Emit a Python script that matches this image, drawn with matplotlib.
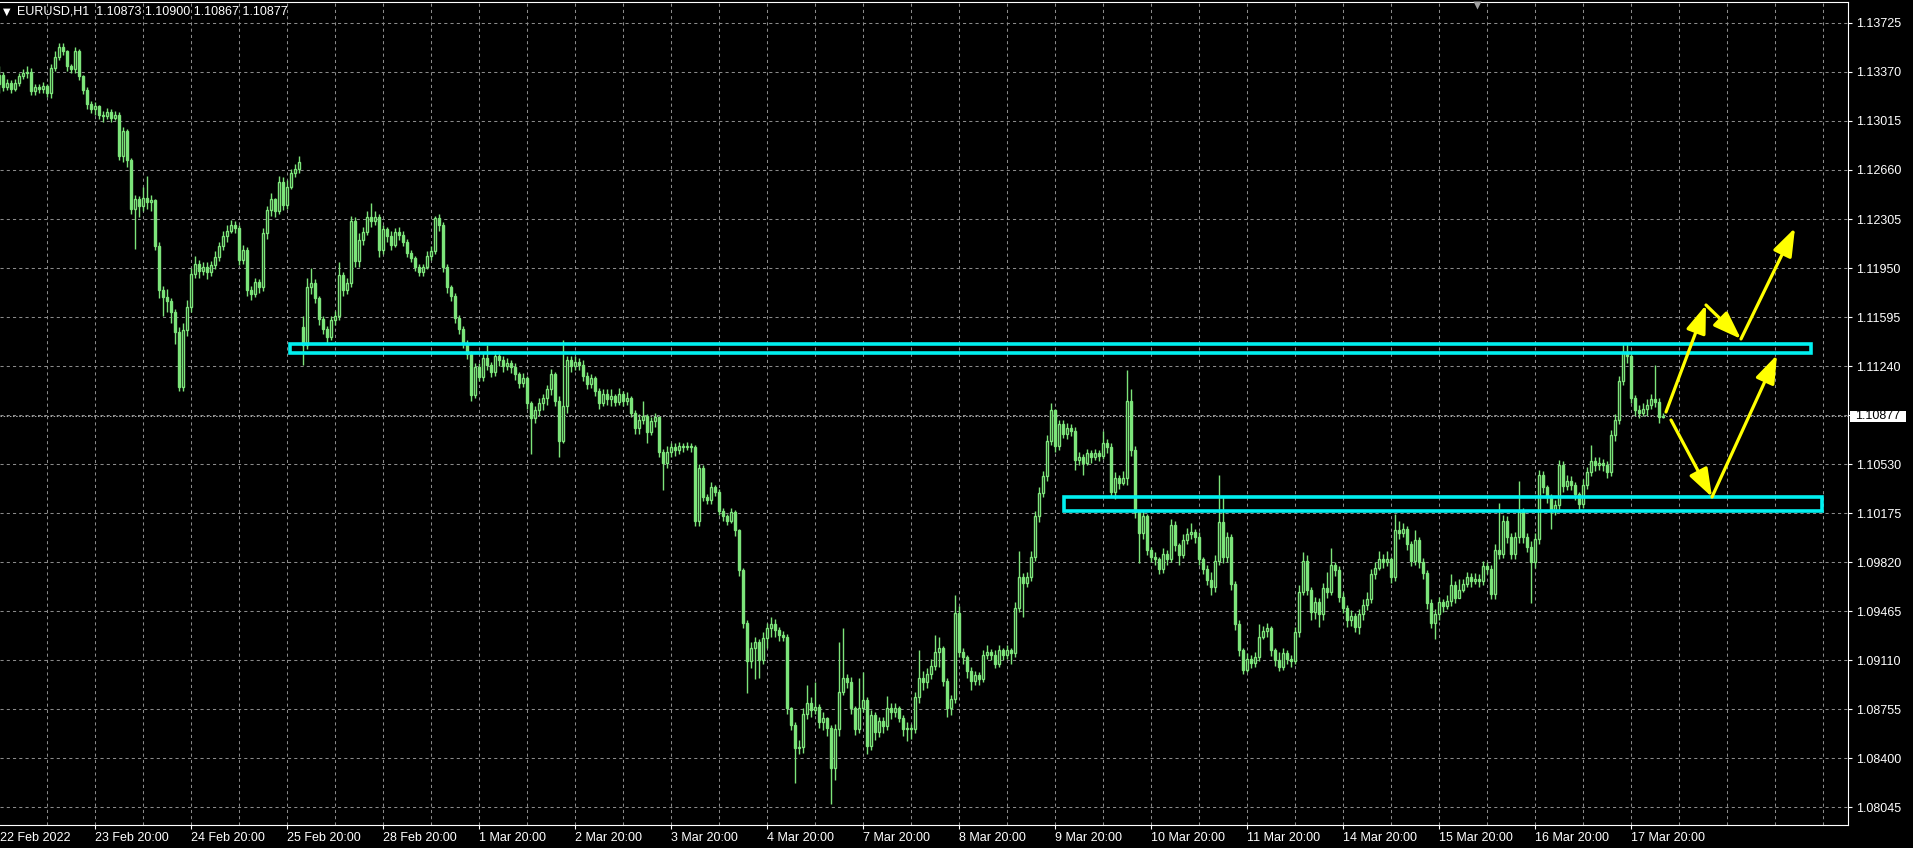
import matplotlib
matplotlib.use("Agg")
import matplotlib.pyplot as plt
import matplotlib.transforms as mtransforms
from matplotlib.patches import Rectangle
import numpy as np

# EURUSD H1 bars, 22 Feb 2022 20:00 -> 18 Mar 2022 04:00 (12 bars per row)
closes = [
    1.1335, 1.1326, 1.1329, 1.1325, 1.1329, 1.1334, 1.1336, 1.1337, 1.1323, 1.1326, 1.1325, 1.1327,
    1.1322, 1.1340, 1.1348, 1.1355, 1.1352, 1.1341, 1.1339, 1.1352, 1.1334, 1.1324, 1.1314, 1.1310,
    1.1312, 1.1306, 1.1305, 1.1308, 1.1304, 1.1306, 1.1276, 1.1294, 1.1273, 1.1238, 1.1245, 1.1240,
    1.1246, 1.1243, 1.1244, 1.1211, 1.1179, 1.1174, 1.1171, 1.1163, 1.1149, 1.1109, 1.1150, 1.1167,
    1.1191, 1.1198, 1.1193, 1.1196, 1.1192, 1.1197, 1.1203, 1.1211, 1.1218, 1.1222, 1.1226, 1.1224,
    1.1201, 1.1208, 1.1179, 1.1176, 1.1185, 1.1181, 1.1220, 1.1237, 1.1245, 1.1236, 1.1257, 1.1241,
    1.1254, 1.1264, 1.1267, 1.1272, 1.1139, 1.1181, 1.1184, 1.1173, 1.1158, 1.1151, 1.1145, 1.1157,
    1.1160, 1.1190, 1.1179, 1.1184, 1.1229, 1.1200, 1.1215, 1.1221, 1.1232, 1.1229, 1.1232, 1.1208,
    1.1223, 1.1218, 1.1212, 1.1221, 1.1219, 1.1214, 1.1206, 1.1202, 1.1196, 1.1192, 1.1196, 1.1204,
    1.1207, 1.1231, 1.1226, 1.1196, 1.1181, 1.1175, 1.1159, 1.1151, 1.1141, 1.1133, 1.1103, 1.1123,
    1.1116, 1.1130, 1.1125, 1.1120, 1.1131, 1.1128, 1.1124, 1.1126, 1.1123, 1.1118, 1.1112, 1.1115,
    1.1097, 1.1086, 1.1092, 1.1097, 1.1101, 1.1107, 1.1118, 1.1099, 1.1070, 1.1095, 1.1128, 1.1124,
    1.1127, 1.1125, 1.1117, 1.1111, 1.1115, 1.1106, 1.1097, 1.1104, 1.1100, 1.1102, 1.1098, 1.1104,
    1.1099, 1.1101, 1.1090, 1.1079, 1.1085, 1.1088, 1.1076, 1.1084, 1.1087, 1.1062, 1.1054, 1.1062,
    1.1065, 1.1063, 1.1066, 1.1065, 1.1066, 1.1065, 1.1012, 1.1050, 1.1029, 1.1027, 1.1036, 1.1033,
    1.1019, 1.1015, 1.1012, 1.1018, 1.1005, 1.0976, 1.0938, 1.0910, 1.0920, 1.0924, 1.0911, 1.0927,
    1.0934, 1.0937, 1.0933, 1.0929, 1.0928, 1.0876, 1.0864, 1.0847, 1.0848, 1.0872, 1.0880, 1.0875,
    1.0877, 1.0866, 1.0869, 1.0862, 1.0833, 1.0861, 1.0888, 1.0898, 1.0895, 1.0876, 1.0861, 1.0876,
    1.0882, 1.0849, 1.0871, 1.0859, 1.0867, 1.0863, 1.0876, 1.0873, 1.0876, 1.0869, 1.0861, 1.0862,
    1.0861, 1.0884, 1.0898, 1.0895, 1.0901, 1.0907, 1.0917, 1.0920, 1.0896, 1.0876, 1.0883, 1.0945,
    1.0917, 1.0913, 1.0903, 1.0896, 1.0900, 1.0897, 1.0915, 1.0917, 1.0915, 1.0908, 1.0918, 1.0915,
    1.0918, 1.0916, 1.0949, 1.0971, 1.0967, 1.0971, 1.0986, 1.1015, 1.1032, 1.1044, 1.1070, 1.1092,
    1.1066, 1.1082, 1.1075, 1.1079, 1.1077, 1.1056, 1.1058, 1.1054, 1.1061, 1.1058, 1.1061, 1.1059,
    1.1068, 1.1065, 1.1033, 1.1043, 1.1039, 1.1043, 1.1099, 1.1063, 1.1018, 1.1003, 1.1015, 1.0991,
    1.0986, 1.0984, 1.0977, 1.0988, 1.0984, 1.1009, 1.0994, 1.0987, 1.0998, 1.1002, 1.1004, 1.1000,
    1.0984, 1.0977, 1.0969, 1.0964, 1.0983, 1.1011, 1.0986, 1.1000, 1.0966, 1.0937, 1.0918, 1.0904,
    1.0912, 1.0909, 1.0913, 1.0928, 1.0932, 1.0934, 1.0918, 1.0911, 1.0906, 1.0916, 1.0912, 1.0910,
    1.0931, 1.0960, 1.0983, 1.0962, 1.0946, 1.0953, 1.0944, 1.0963, 1.0960, 1.0980, 1.0976, 1.0957,
    1.0949, 1.0940, 1.0943, 1.0935, 1.0944, 1.0951, 1.0955, 1.0973, 1.0978, 1.0984, 1.0982, 1.0984,
    1.0971, 1.1005, 1.1003, 1.1006, 1.0995, 1.0983, 1.0998, 1.0982, 1.0974, 1.0952, 1.0938, 1.0944,
    1.0953, 1.0950, 1.0954, 1.0965, 1.0956, 1.0962, 1.0966, 1.0971, 1.0968, 1.0970, 1.0968, 1.0979,
    1.0977, 1.0959, 1.0991, 1.0988, 1.1012, 1.1000, 1.0988, 1.1000, 1.1018, 1.1000, 1.0993, 1.0982,
    1.0999, 1.1045, 1.1036, 1.1029, 1.1020, 1.1023, 1.1052, 1.1037, 1.1041, 1.1038, 1.1031, 1.1024,
    1.1038, 1.1047, 1.1055, 1.1052, 1.1054, 1.1052, 1.1047, 1.1074, 1.1085, 1.1113, 1.1134, 1.1131,
    1.1101, 1.1092, 1.1090, 1.1093, 1.1096, 1.1100, 1.1098, 1.10873, 1.10877,
]
highs = [
    1.1341, 1.1337, 1.1332, 1.1331, 1.1332, 1.1336, 1.1339, 1.1341, 1.1340, 1.1328, 1.1328, 1.1330,
    1.1328, 1.1343, 1.1352, 1.1358, 1.1358, 1.1353, 1.1343, 1.1355, 1.1354, 1.1335, 1.1326, 1.1316,
    1.1315, 1.1313, 1.1309, 1.1311, 1.1310, 1.1309, 1.1308, 1.1297, 1.1296, 1.1275, 1.1248, 1.1247,
    1.1254, 1.1262, 1.1248, 1.1245, 1.1214, 1.1182, 1.1180, 1.1173, 1.1165, 1.1152, 1.1155, 1.1172,
    1.1195, 1.1204, 1.1201, 1.1199, 1.1199, 1.1200, 1.1207, 1.1214, 1.1222, 1.1226, 1.1230, 1.1229,
    1.1226, 1.1212, 1.1210, 1.1182, 1.1188, 1.1187, 1.1224, 1.1240, 1.1249, 1.1246, 1.1262, 1.1261,
    1.1259, 1.1267, 1.1270, 1.1276, 1.1160, 1.1188, 1.1195, 1.1187, 1.1175, 1.1160, 1.1153, 1.1160,
    1.1164, 1.1199, 1.1192, 1.1188, 1.1233, 1.1232, 1.1220, 1.1225, 1.1236, 1.1242, 1.1236, 1.1234,
    1.1226, 1.1225, 1.1222, 1.1224, 1.1225, 1.1222, 1.1216, 1.1208, 1.1204, 1.1198, 1.1198, 1.1207,
    1.1211, 1.1233, 1.1234, 1.1228, 1.1198, 1.1183, 1.1177, 1.1161, 1.1153, 1.1143, 1.1135, 1.1126,
    1.1126, 1.1134, 1.1139, 1.1127, 1.1135, 1.1134, 1.1131, 1.1130, 1.1128, 1.1126, 1.1120, 1.1119,
    1.1117, 1.1099, 1.1095, 1.1101, 1.1104, 1.1110, 1.1122, 1.1120, 1.1102, 1.1143, 1.1131, 1.1131,
    1.1131, 1.1130, 1.1128, 1.1120, 1.1118, 1.1117, 1.1108, 1.1107, 1.1107, 1.1107, 1.1104, 1.1108,
    1.1106, 1.1105, 1.1102, 1.1092, 1.1089, 1.1099, 1.1089, 1.1087, 1.1090, 1.1088, 1.1064, 1.1066,
    1.1068, 1.1068, 1.1069, 1.1068, 1.1069, 1.1068, 1.1067, 1.1053, 1.1052, 1.1031, 1.1040, 1.1038,
    1.1035, 1.1021, 1.1017, 1.1021, 1.1020, 1.1006, 1.0978, 1.0940, 1.0924, 1.0928, 1.0926, 1.0931,
    1.0938, 1.0942, 1.0941, 1.0935, 1.0932, 1.0930, 1.0877, 1.0866, 1.0853, 1.0876, 1.0893, 1.0884,
    1.0895, 1.0879, 1.0873, 1.0870, 1.0864, 1.0865, 1.0924, 1.0934, 1.0901, 1.0899, 1.0878, 1.0898,
    1.0902, 1.0884, 1.0875, 1.0873, 1.0870, 1.0870, 1.0885, 1.0880, 1.0880, 1.0878, 1.0871, 1.0866,
    1.0865, 1.0888, 1.0918, 1.0903, 1.0905, 1.0912, 1.0929, 1.0928, 1.0921, 1.0898, 1.0886, 1.0958,
    1.0950, 1.0920, 1.0915, 1.0906, 1.0903, 1.0902, 1.0918, 1.0922, 1.0919, 1.0918, 1.0922, 1.0920,
    1.0922, 1.0920, 1.0953, 1.0990, 1.0974, 1.0975, 1.0990, 1.1019, 1.1036, 1.1048, 1.1074, 1.1097,
    1.1093, 1.1085, 1.1085, 1.1083, 1.1082, 1.1080, 1.1062, 1.1060, 1.1064, 1.1063, 1.1064, 1.1063,
    1.1077, 1.1071, 1.1068, 1.1047, 1.1045, 1.1048, 1.1121, 1.1107, 1.1066, 1.1020, 1.1019, 1.1017,
    1.0993, 1.0989, 1.0986, 1.0992, 1.0991, 1.1013, 1.1012, 1.0996, 1.1002, 1.1007, 1.1010, 1.1006,
    1.1004, 1.0986, 1.0980, 1.0975, 1.0987, 1.1045, 1.1030, 1.1004, 1.1002, 1.0968, 1.0940, 1.0920,
    1.0916, 1.0915, 1.0917, 1.0937, 1.0936, 1.0938, 1.0936, 1.0920, 1.0917, 1.0920, 1.0918, 1.0915,
    1.0935, 1.0965, 1.0989, 1.0987, 1.0964, 1.0957, 1.0956, 1.0967, 1.0975, 1.0992, 1.0982, 1.0979,
    1.0960, 1.0951, 1.0947, 1.0945, 1.0948, 1.0955, 1.0960, 1.0977, 1.0982, 1.0990, 1.0988, 1.0990,
    1.0986, 1.1017, 1.1012, 1.1010, 1.1008, 1.0997, 1.1005, 1.1000, 1.0985, 1.0976, 1.0955, 1.0948,
    1.0957, 1.0955, 1.0958, 1.0973, 1.0968, 1.0970, 1.0970, 1.0975, 1.0974, 1.0974, 1.0973, 1.0983,
    1.0982, 1.0980, 1.0995, 1.1025, 1.1016, 1.1015, 1.1003, 1.1004, 1.1041, 1.1021, 1.1003, 1.0997,
    1.1003, 1.1049, 1.1048, 1.1038, 1.1031, 1.1027, 1.1056, 1.1055, 1.1045, 1.1044, 1.1040, 1.1033,
    1.1042, 1.1051, 1.1067, 1.1058, 1.1058, 1.1057, 1.1055, 1.1078, 1.1089, 1.1117, 1.1141, 1.1140,
    1.1133, 1.1103, 1.1096, 1.1097, 1.1100, 1.1104, 1.1125, 1.1101, 1.10900,
]
lows = [
    1.1322, 1.1323, 1.1324, 1.1322, 1.1323, 1.1327, 1.1332, 1.1333, 1.1320, 1.1320, 1.1322, 1.1322,
    1.1319, 1.1318, 1.1338, 1.1346, 1.1349, 1.1338, 1.1336, 1.1336, 1.1331, 1.1321, 1.1310, 1.1307,
    1.1306, 1.1303, 1.1301, 1.1303, 1.1301, 1.1302, 1.1273, 1.1272, 1.1268, 1.1234, 1.1209, 1.1232,
    1.1236, 1.1238, 1.1236, 1.1208, 1.1173, 1.1160, 1.1163, 1.1155, 1.1140, 1.1106, 1.1106, 1.1146,
    1.1163, 1.1188, 1.1188, 1.1190, 1.1187, 1.1189, 1.1194, 1.1200, 1.1208, 1.1214, 1.1220, 1.1220,
    1.1197, 1.1198, 1.1175, 1.1172, 1.1174, 1.1177, 1.1178, 1.1216, 1.1233, 1.1232, 1.1234, 1.1237,
    1.1238, 1.1252, 1.1261, 1.1264, 1.1125, 1.1136, 1.1176, 1.1170, 1.1154, 1.1147, 1.1141, 1.1143,
    1.1154, 1.1157, 1.1175, 1.1176, 1.1181, 1.1196, 1.1196, 1.1212, 1.1219, 1.1225, 1.1226, 1.1203,
    1.1205, 1.1214, 1.1208, 1.1210, 1.1215, 1.1211, 1.1203, 1.1199, 1.1193, 1.1189, 1.1189, 1.1194,
    1.1201, 1.1205, 1.1222, 1.1192, 1.1177, 1.1171, 1.1155, 1.1147, 1.1137, 1.1129, 1.1099, 1.1101,
    1.1113, 1.1113, 1.1121, 1.1116, 1.1117, 1.1124, 1.1120, 1.1121, 1.1119, 1.1114, 1.1108, 1.1109,
    1.1093, 1.1060, 1.1083, 1.1088, 1.1092, 1.1096, 1.1103, 1.1095, 1.1058, 1.1068, 1.1090, 1.1120,
    1.1121, 1.1121, 1.1113, 1.1107, 1.1108, 1.1102, 1.1093, 1.1095, 1.1096, 1.1095, 1.1095, 1.1096,
    1.1095, 1.1096, 1.1087, 1.1075, 1.1075, 1.1082, 1.1068, 1.1074, 1.1080, 1.1058, 1.1034, 1.1050,
    1.1058, 1.1059, 1.1060, 1.1062, 1.1063, 1.1062, 1.1008, 1.1008, 1.1026, 1.1024, 1.1024, 1.1030,
    1.1016, 1.1012, 1.1009, 1.1010, 1.1001, 1.0972, 1.0934, 1.0887, 1.0905, 1.0897, 1.0898, 1.0908,
    1.0920, 1.0928, 1.0928, 1.0925, 1.0925, 1.0872, 1.0860, 1.0822, 1.0843, 1.0844, 1.0868, 1.0870,
    1.0872, 1.0862, 1.0860, 1.0856, 1.0807, 1.0824, 1.0856, 1.0886, 1.0891, 1.0872, 1.0857, 1.0858,
    1.0873, 1.0843, 1.0846, 1.0853, 1.0855, 1.0858, 1.0860, 1.0868, 1.0870, 1.0866, 1.0856, 1.0852,
    1.0854, 1.0858, 1.0880, 1.0889, 1.0891, 1.0897, 1.0904, 1.0906, 1.0892, 1.0870, 1.0871, 1.0880,
    1.0913, 1.0908, 1.0898, 1.0889, 1.0893, 1.0893, 1.0895, 1.0912, 1.0911, 1.0905, 1.0906, 1.0911,
    1.0912, 1.0908, 1.0913, 1.0946, 1.0942, 1.0964, 1.0968, 1.0983, 1.1011, 1.1029, 1.1041, 1.1067,
    1.1062, 1.1063, 1.1072, 1.1071, 1.1073, 1.1049, 1.1052, 1.1045, 1.1052, 1.1054, 1.1056, 1.1055,
    1.1057, 1.1061, 1.1029, 1.1028, 1.1035, 1.1038, 1.1038, 1.1059, 1.1014, 1.0981, 1.0999, 1.0987,
    1.0982, 1.0980, 1.0973, 1.0974, 1.0980, 1.0982, 1.0990, 1.0980, 1.0985, 1.0995, 1.0999, 1.0996,
    1.0980, 1.0973, 1.0965, 1.0958, 1.0960, 1.0980, 1.0981, 1.0982, 1.0962, 1.0933, 1.0914, 1.0901,
    1.0902, 1.0905, 1.0906, 1.0910, 1.0926, 1.0928, 1.0914, 1.0907, 1.0903, 1.0904, 1.0908, 1.0906,
    1.0908, 1.0928, 1.0958, 1.0958, 1.0940, 1.0941, 1.0935, 1.0940, 1.0956, 1.0958, 1.0972, 1.0953,
    1.0945, 1.0935, 1.0936, 1.0931, 1.0930, 1.0940, 1.0947, 1.0952, 1.0970, 1.0976, 1.0978, 1.0979,
    1.0967, 1.0968, 1.0999, 1.1000, 1.0991, 1.0979, 1.0980, 1.0978, 1.0970, 1.0948, 1.0934, 1.0926,
    1.0940, 1.0946, 1.0948, 1.0950, 1.0952, 1.0957, 1.0960, 1.0964, 1.0964, 1.0966, 1.0964, 1.0965,
    1.0973, 1.0955, 1.0955, 1.0984, 1.0985, 1.0996, 1.0984, 1.0984, 1.0996, 1.0996, 1.0989, 1.0952,
    1.0978, 1.0995, 1.1032, 1.1025, 1.1006, 1.1016, 1.1019, 1.1033, 1.1034, 1.1034, 1.1027, 1.1020,
    1.1021, 1.1035, 1.1044, 1.1048, 1.1049, 1.1048, 1.1043, 1.1044, 1.1070, 1.1082, 1.1110, 1.1126,
    1.1097, 1.1088, 1.1086, 1.1088, 1.1088, 1.1093, 1.1094, 1.1083, 1.10867,
]
# bars whose open is not the previous close (first bar, weekend gap on 28 Feb)
gap_opens = {0: 1.1328, 76: 1.1152}

symbol = "EURUSD,H1"
bid = 1.10877

price_ticks = [1.08045, 1.08400, 1.08755, 1.09110, 1.09465, 1.09820, 1.10175, 1.10530,
               1.10885, 1.11240, 1.11595, 1.11950, 1.12305, 1.12660, 1.13015, 1.13370, 1.13725]
first_label = "22 Feb 2022"
date_ticks = [24, 48, 72, 96, 120, 144, 168, 192, 216, 240, 264, 288, 312, 336, 360, 384, 408]
date_labels = ["23 Feb 20:00", "24 Feb 20:00", "25 Feb 20:00", "28 Feb 20:00", "1 Mar 20:00",
               "2 Mar 20:00", "3 Mar 20:00", "4 Mar 20:00", "7 Mar 20:00", "8 Mar 20:00",
               "9 Mar 20:00", "10 Mar 20:00", "11 Mar 20:00", "14 Mar 20:00", "15 Mar 20:00",
               "16 Mar 20:00", "17 Mar 20:00"]

# drawn objects: (x0, x1, lower price, upper price)
resistance_zone = (72.75, 453.0, 1.11332, 1.11398)
support_zone = (266.25, 455.75, 1.10190, 1.10291)
bull_path = [(416.75, 1.10907), (426.75, 1.11682), (435.5, 1.11436), (449.0, 1.12240)]
bear_path = [(418.0, 1.10849), (428.25, 1.10291), (444.5, 1.11320)]

GREEN = "#7ce47a"
GRID = "#8a8a8a"
CYAN = "#00f0f0"
YELLOW = "#ffff00"

plt.rcParams["font.family"] = ["Liberation Sans", "DejaVu Sans"]

n = len(closes)
assert len(highs) == n and len(lows) == n
c = np.array(closes)
o = np.array([gap_opens.get(i, closes[i - 1]) for i in range(n)])
h = np.maximum(np.array(highs), np.maximum(o, c))
l = np.minimum(np.array(lows), np.minimum(o, c))
x = np.arange(n)
up = c >= o

W, H = 1913, 848
fig = plt.figure(figsize=(W / 100, H / 100), dpi=100, facecolor="black")
ax = fig.add_axes([0, 23 / H, 1848 / W, 823 / H], facecolor="black")
ax.set_xlim(0.25, 462.25)
ax.set_ylim(1.07915, 1.13877)

# grid
for p in price_ticks:
    ax.axhline(p, color=GRID, lw=0.75, ls=(0, (3, 3)), zorder=1)
for g in range(12, 462, 12):
    ax.axvline(g, color=GRID, lw=0.75, ls=(0, (3, 3)), zorder=1)

# candles
ax.vlines(x, l, h, color=GREEN, lw=1.0, zorder=2)
ax.bar(x, np.abs(c - o), bottom=np.minimum(o, c), width=0.55,
       color=np.where(up, "black", GREEN), edgecolor=GREEN, linewidth=1.0, zorder=3)

# bid line
ax.axhline(bid, color="#a8a8a8", lw=0.75, ls=(0, (1.5, 1.5)), zorder=2)

# zones
for x0, x1, lo, hi in (resistance_zone, support_zone):
    ax.add_patch(Rectangle((x0, lo), x1 - x0, hi - lo, fill=False,
                           edgecolor=CYAN, lw=2.6, zorder=5))

# scenario arrows
for path in (bull_path, bear_path):
    for (xa, ya), (xb, yb) in zip(path[:-1], path[1:]):
        ax.annotate("", xy=(xb, yb), xytext=(xa, ya), zorder=6,
                    arrowprops=dict(arrowstyle="-|>,head_length=0.9,head_width=0.32",
                                    color=YELLOW, lw=2.3, shrinkA=0, shrinkB=0,
                                    mutation_scale=19))

# axes styling
for side in ("top", "right", "bottom"):
    ax.spines[side].set_color("white")
    ax.spines[side].set_linewidth(0.8)
ax.spines["left"].set_visible(False)

ax.yaxis.tick_right()
ax.set_yticks(price_ticks, ["" if abs(p - bid) < 0.0002 else f"{p:.5f}" for p in price_ticks])
ax.tick_params(axis="y", colors="white", labelcolor="white", labelsize=9,
               length=3, width=0.8, pad=3)

ax.set_xticks([0.25] + date_ticks, [first_label] + date_labels)
ax.tick_params(axis="x", colors="white", labelcolor="white", labelsize=9,
               length=3, width=0.8, pad=2)
for t in ax.get_xticklabels():
    t.set_ha("left")
ax.get_xticklines()[0].set_visible(False)

# bid label on the price scale
blend = mtransforms.blended_transform_factory(ax.transAxes, ax.transData)
ax.add_patch(Rectangle((1850 / 1848, bid - 0.00040), 56 / 1848, 0.00080,
                       transform=blend, facecolor="white", edgecolor="none",
                       clip_on=False, zorder=7))
ax.text(1855 / 1848, bid, f"{bid:.5f}", transform=blend, color="black", fontsize=9,
        va="center", ha="left", zorder=8, clip_on=False)

# shift marker at the top
ax.plot([1477 / 1848], [1 - 3.5 / 823], marker="v", ms=6, color="#a0a0a0",
        mec="none", transform=ax.transAxes, clip_on=False, zorder=8)

# header
fig.text(3 / W, 1 - 12 / H, "\u25bc", color="white", fontsize=7, va="center",
         family="DejaVu Sans")
fig.text(17 / W, 1 - 12 / H,
         f"{symbol}  {o[-1]:.5f} {h[-1]:.5f} {l[-1]:.5f} {c[-1]:.5f}",
         color="white", fontsize=9, va="center", ha="left")

fig.savefig("out.png", dpi=100, facecolor="black")
